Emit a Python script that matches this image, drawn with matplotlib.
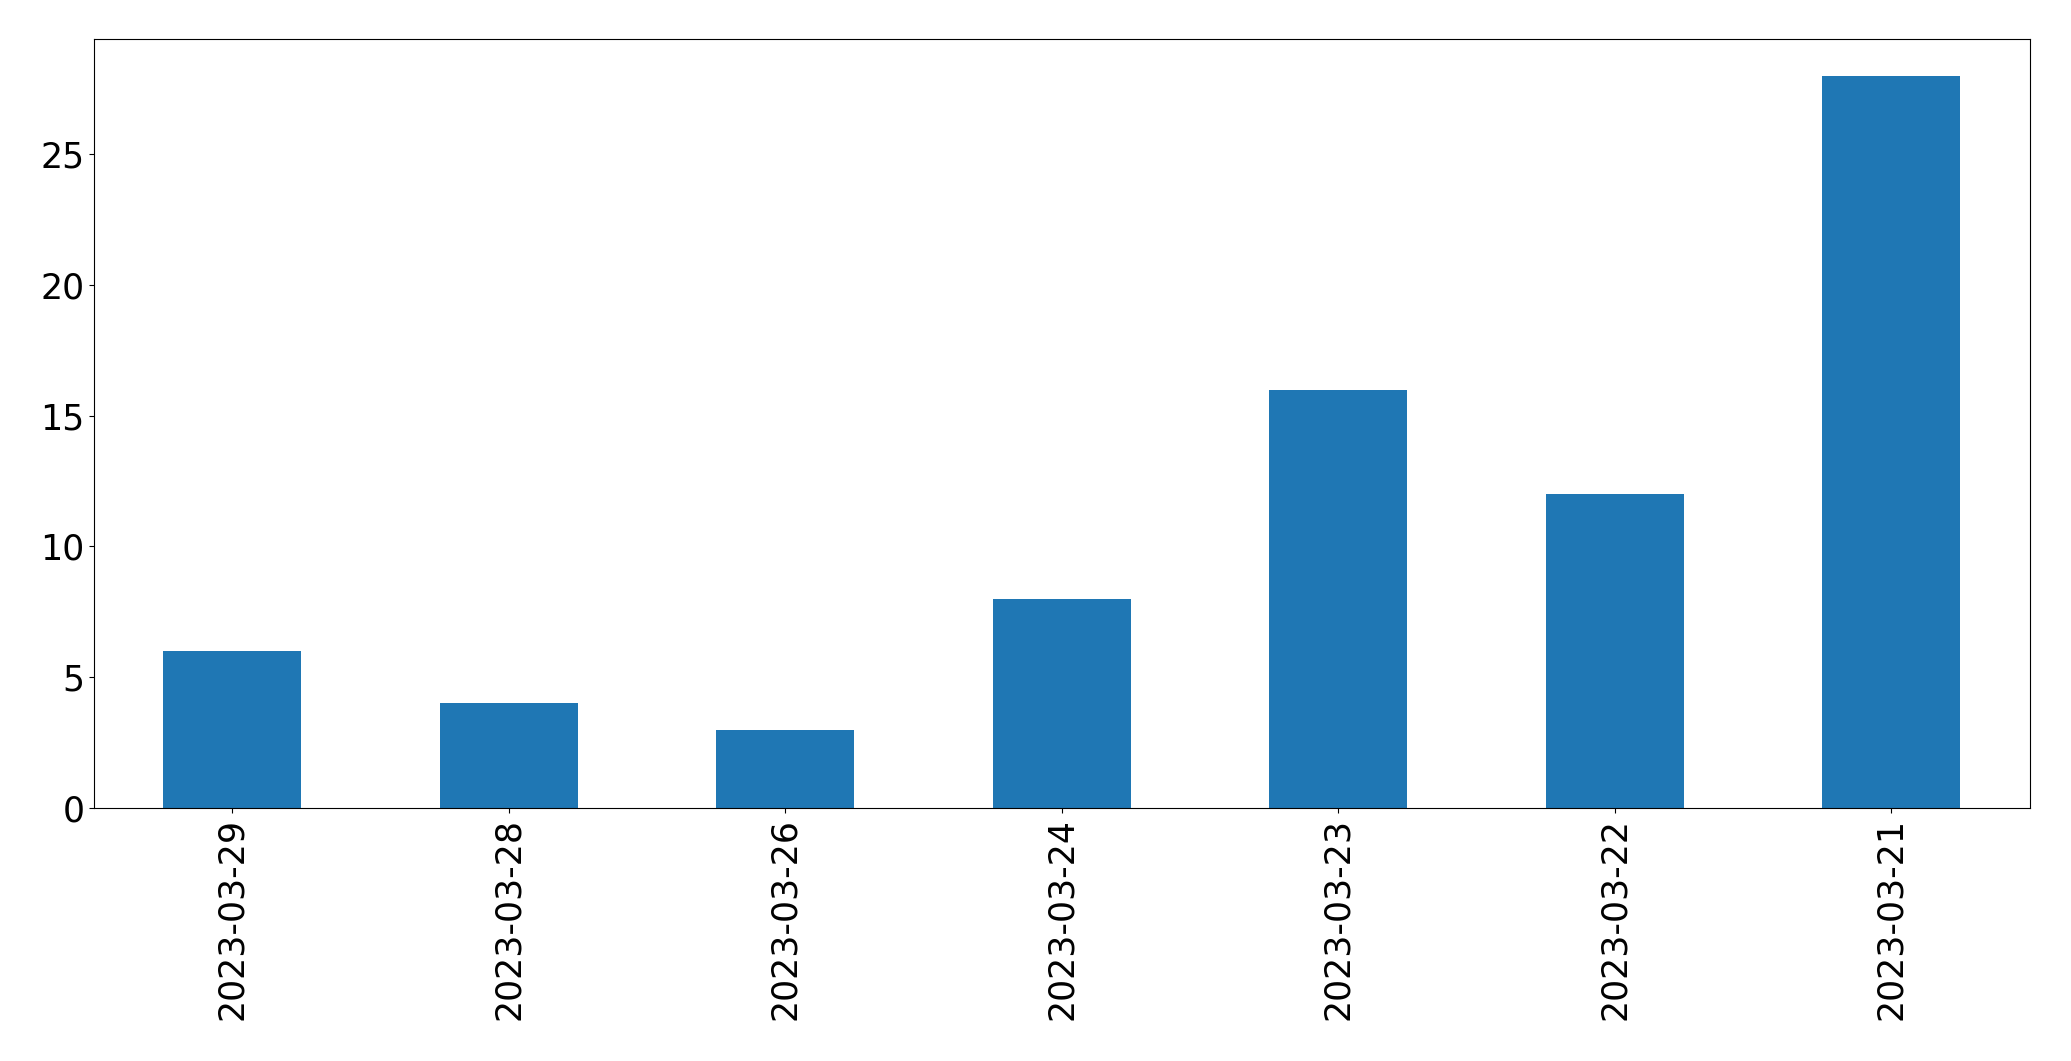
import matplotlib
matplotlib.use("Agg")
import matplotlib.pyplot as plt

dates = ["2023-03-29", "2023-03-28", "2023-03-26", "2023-03-24", "2023-03-23", "2023-03-22", "2023-03-21"]
counts = [6, 4, 3, 8, 16, 12, 28]

fig = plt.figure(figsize=(20.71, 10.61), dpi=100)
ax = fig.add_axes([0.0454, 0.2385, 0.9346, 0.7245])
x = range(len(dates))
ax.bar(x, counts, width=0.5, color="#1f77b4")
ax.set_xticks(list(x))
ax.set_xticklabels(dates, rotation=90, fontsize=25)
ax.tick_params(axis="y", labelsize=25)
ax.set_xlim(-0.5, len(dates) - 0.5)
fig.savefig("out.png", dpi=100)
